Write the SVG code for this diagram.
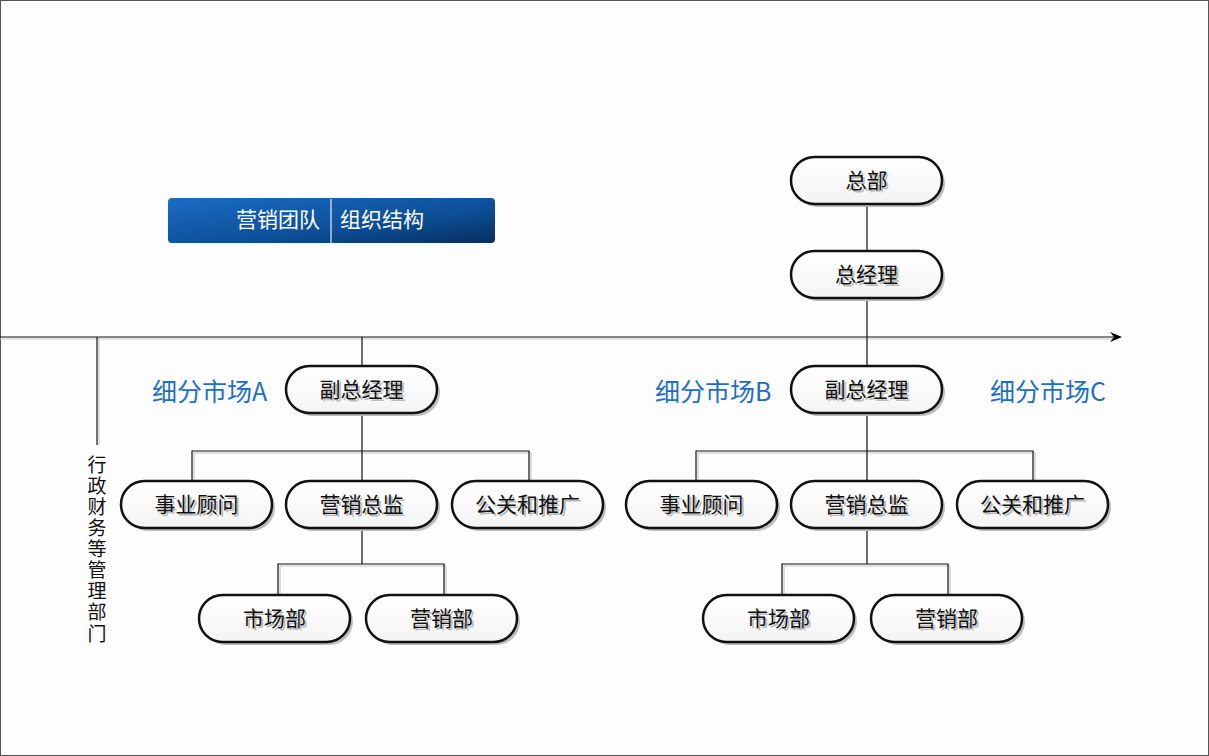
<svg xmlns="http://www.w3.org/2000/svg" width="1209" height="756" viewBox="0 0 1209 756">
<defs>
<linearGradient id="hdr" x1="0" y1="0" x2="1" y2="1">
<stop offset="0" stop-color="#1a6cc4"/>
<stop offset="0.6" stop-color="#0d4f98"/>
<stop offset="1" stop-color="#062f5e"/>
</linearGradient>
<linearGradient id="nodefill" x1="0" y1="0" x2="0" y2="1">
<stop offset="0" stop-color="#ffffff"/>
<stop offset="1" stop-color="#f4f4f4"/>
</linearGradient>
<marker id="arr" viewBox="0 0 12 10" refX="10" refY="5" markerWidth="12" markerHeight="10" markerUnits="userSpaceOnUse" orient="auto">
<path d="M0,0 L12,5 L0,10 L4,5 Z" fill="#000"/>
</marker>
</defs>
<style>
.pill{fill:url(#nodefill);stroke:#111;stroke-width:2.5}
.shd{fill:#bdbdbd}
.nt{font-family:"Noto Sans CJK SC","Microsoft YaHei",sans-serif;font-size:21px;fill:#111;text-anchor:middle}
.ns{font-family:"Noto Sans CJK SC","Microsoft YaHei",sans-serif;font-size:21px;fill:#bbbbbb;text-anchor:middle}
.lbl{font-family:"Noto Sans CJK SC","Microsoft YaHei",sans-serif;font-size:25px;fill:#1e6fc4}
.ln{stroke:#111;stroke-width:1.2;fill:none}
.lns{stroke:#c8c8c8;stroke-width:1.2;fill:none}
.ht{font-family:"Noto Sans CJK SC","Microsoft YaHei",sans-serif;font-size:21px;fill:#fff}
.vt{font-family:"Noto Sans CJK SC","Microsoft YaHei",sans-serif;font-size:19px;fill:#111;writing-mode:vertical-rl;letter-spacing:2.1px}
</style>
<rect x="0" y="0" width="1209" height="756" fill="#fdfdfd"/>
<rect x="0.5" y="0.5" width="1208" height="755" fill="none" stroke="#555" stroke-width="1"/>

<g id="header">
<rect x="168" y="198" width="327" height="45" rx="4" fill="url(#hdr)"/>
<line x1="331" y1="199" x2="331" y2="243" stroke="#e8eef6" stroke-width="1.2"/>
<text class="ht" x="320" y="227" text-anchor="end">营销团队</text>
<text class="ht" x="340" y="227">组织结构</text>
</g>

<g id="connectors">
<line class="lns" x1="0" y1="339" x2="1118" y2="339"/>
<line class="ln" x1="0" y1="337" x2="1120" y2="337" marker-end="url(#arr)"/>
<line class="lns" x1="99" y1="338" x2="99" y2="445"/>
<line class="ln" x1="97" y1="337" x2="97" y2="445"/>
<line class="ln" x1="867" y1="204" x2="867" y2="251"/>
<line class="ln" x1="867" y1="298" x2="867" y2="366"/>
<line class="ln" x1="362" y1="337" x2="362" y2="366"/>
<path class="lns" d="M194,482 V453 H531 V482"/>
<path class="ln" d="M362,413 V481 M192,481 V451 H529 V481"/>
<path class="lns" d="M280,596 V566 H446 V596"/>
<path class="ln" d="M362,528 V564 M278,595 V564 H444 V595"/>
<path class="lns" d="M698,482 V453 H1035 V482"/>
<path class="ln" d="M867,413 V481 M696,481 V451 H1033 V481"/>
<path class="lns" d="M784,596 V566 H950 V596"/>
<path class="ln" d="M867,528 V564 M782,595 V564 H948 V595"/>
</g>

<g id="vertical-label">
<text class="vt" x="97" y="455">行政财务等管理部门</text>
</g>

<g id="labels">
<text class="lbl" x="152" y="401">细分市场A</text>
<text class="lbl" x="655" y="401">细分市场B</text>
<text class="lbl" x="990" y="401">细分市场C</text>
</g>

<g id="n-hq"><rect class="shd" x="794" y="160" width="151" height="47" rx="23.5"/><rect class="pill" x="791" y="157" width="151" height="47" rx="23.5"/><text class="ns" x="868.5" y="189.5">总部</text><text class="nt" x="866.5" y="188">总部</text></g>
<g id="n-gm"><rect class="shd" x="794" y="254" width="151" height="47" rx="23.5"/><rect class="pill" x="791" y="251" width="151" height="47" rx="23.5"/><text class="ns" x="868.5" y="283.5">总经理</text><text class="nt" x="866.5" y="282">总经理</text></g>

<g id="n-vpA"><rect class="shd" x="289" y="369" width="151" height="47" rx="23.5"/><rect class="pill" x="286" y="366" width="151" height="47" rx="23.5"/><text class="ns" x="363.5" y="398.5">副总经理</text><text class="nt" x="361.5" y="397">副总经理</text></g>
<g id="n-advA"><rect class="shd" x="124" y="484" width="151" height="47" rx="23.5"/><rect class="pill" x="121" y="481" width="151" height="47" rx="23.5"/><text class="ns" x="198.5" y="513.5">事业顾问</text><text class="nt" x="196.5" y="512">事业顾问</text></g>
<g id="n-dirA"><rect class="shd" x="289" y="484" width="151" height="47" rx="23.5"/><rect class="pill" x="286" y="481" width="151" height="47" rx="23.5"/><text class="ns" x="363.5" y="513.5">营销总监</text><text class="nt" x="361.5" y="512">营销总监</text></g>
<g id="n-prA"><rect class="shd" x="455" y="484" width="151" height="47" rx="23.5"/><rect class="pill" x="452" y="481" width="151" height="47" rx="23.5"/><text class="ns" x="529.5" y="513.5">公关和推广</text><text class="nt" x="527.5" y="512">公关和推广</text></g>
<g id="n-mktA"><rect class="shd" x="202" y="598" width="151" height="47" rx="23.5"/><rect class="pill" x="199" y="595" width="151" height="47" rx="23.5"/><text class="ns" x="276.5" y="627.5">市场部</text><text class="nt" x="274.5" y="626">市场部</text></g>
<g id="n-salA"><rect class="shd" x="369" y="598" width="151" height="47" rx="23.5"/><rect class="pill" x="366" y="595" width="151" height="47" rx="23.5"/><text class="ns" x="443.5" y="627.5">营销部</text><text class="nt" x="441.5" y="626">营销部</text></g>

<g id="n-vpB"><rect class="shd" x="794" y="369" width="151" height="47" rx="23.5"/><rect class="pill" x="791" y="366" width="151" height="47" rx="23.5"/><text class="ns" x="868.5" y="398.5">副总经理</text><text class="nt" x="866.5" y="397">副总经理</text></g>
<g id="n-advB"><rect class="shd" x="629" y="484" width="151" height="47" rx="23.5"/><rect class="pill" x="626" y="481" width="151" height="47" rx="23.5"/><text class="ns" x="703.5" y="513.5">事业顾问</text><text class="nt" x="701.5" y="512">事业顾问</text></g>
<g id="n-dirB"><rect class="shd" x="794" y="484" width="151" height="47" rx="23.5"/><rect class="pill" x="791" y="481" width="151" height="47" rx="23.5"/><text class="ns" x="868.5" y="513.5">营销总监</text><text class="nt" x="866.5" y="512">营销总监</text></g>
<g id="n-prB"><rect class="shd" x="960" y="484" width="151" height="47" rx="23.5"/><rect class="pill" x="957" y="481" width="151" height="47" rx="23.5"/><text class="ns" x="1034.5" y="513.5">公关和推广</text><text class="nt" x="1032.5" y="512">公关和推广</text></g>
<g id="n-mktB"><rect class="shd" x="706" y="598" width="151" height="47" rx="23.5"/><rect class="pill" x="703" y="595" width="151" height="47" rx="23.5"/><text class="ns" x="780.5" y="627.5">市场部</text><text class="nt" x="778.5" y="626">市场部</text></g>
<g id="n-salB"><rect class="shd" x="874" y="598" width="151" height="47" rx="23.5"/><rect class="pill" x="871" y="595" width="151" height="47" rx="23.5"/><text class="ns" x="948.5" y="627.5">营销部</text><text class="nt" x="946.5" y="626">营销部</text></g>
</svg>
